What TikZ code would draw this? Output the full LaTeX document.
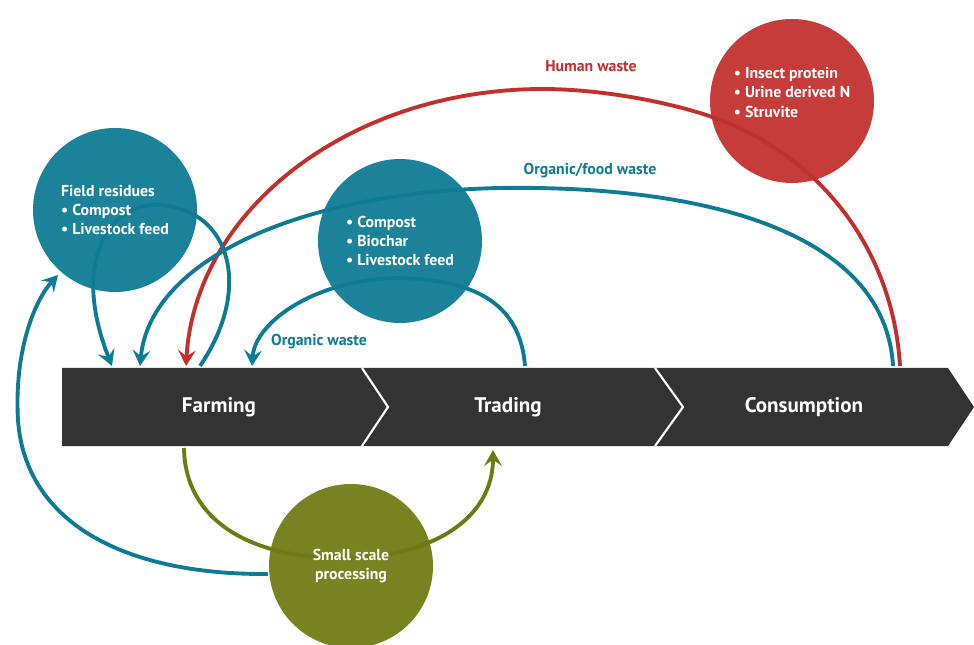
\documentclass[tikz,border=0pt]{standalone}
\usepackage{fontspec}
\setmainfont{PT Sans}
\usetikzlibrary{arrows.meta}
\definecolor{loopteal}{RGB}{14,122,148}
\definecolor{loopred}{RGB}{194,48,46}
\definecolor{loopgreen}{RGB}{110,122,18}
\definecolor{bandgrey}{RGB}{51,51,51}

\begin{document}
\begin{tikzpicture}[x=0.2mm, y=-0.2mm, font=\bfseries\fontsize{9}{11}\selectfont,
	flow/.style={line width=2.2pt},
	tip/.style={-{Stealth[length=9pt, width=10pt, inset=3.5pt]}},
	blob/.style={circle, minimum size=32.8mm, inner sep=0pt, fill opacity=0.94, text opacity=1, text=white, align=left},
	stage/.style={text=white, font=\bfseries\fontsize{12}{14}\selectfont}]
	\useasboundingbox (0,0) rectangle (974,645);
	% ports on the chain
	\coordinate (farmA) at (112,366);
	\coordinate (farmB) at (140,366);
	\coordinate (farmC) at (186,366);
	\coordinate (farmD) at (252,366);
	\coordinate (farmOut) at (200,366);
	\coordinate (farmLow) at (184,448);
	\coordinate (tradeOut) at (525,366);
	\coordinate (tradeLow) at (493,450);
	\coordinate (consA) at (893,366);
	\coordinate (consB) at (900,366);
	\coordinate (resIn) at (58,275);
	\coordinate (procOut) at (268,574);
	% loops
	\draw [flow, loopred, tip] (consB) .. controls (893,250) and (820,150) .. (700,113) .. controls (640,95) and (580,89) .. (543,89) .. controls (350,89) and (195,210) .. (farmC);
	\draw [flow, loopteal, tip] (consA) .. controls (885,230) and (700,185) .. (500,188) .. controls (300,192) and (150,260) .. (farmB);
	\draw [flow, loopteal, tip] (farmOut) .. controls (252,290) and (232,210) .. (160,205) .. controls (110,202) and (70,260) .. (farmA);
	\draw [flow, loopteal, tip] (tradeOut) .. controls (520,300) and (470,280) .. (400,278) .. controls (320,278) and (255,320) .. (farmD);
	\draw [flow, loopgreen, tip] (farmLow) .. controls (185,520) and (250,560) .. (350,558) .. controls (430,556) and (493,520) .. (tradeLow);
	\draw [flow, loopteal, tip] (procOut) .. controls (120,575) and (25,520) .. (18,420) .. controls (14,350) and (35,300) .. (resIn);
	% chain
	\fill [bandgrey] (62,368) -- (948,368) -- (974,407) -- (948,446) -- (62,446) -- cycle;
	\draw [white, line width=1.2pt] (362,368) -- (388,407) -- (362,446);
	\draw [white, line width=1.2pt] (655,368) -- (683,407) -- (655,446);
	\node [stage] (farming) at (219,407) {Farming};
	\node [stage] (trading) at (508,407) {Trading};
	\node [stage] (consumption) at (804,407) {Consumption};
	% circles
	\node [blob, fill=loopteal] (residues) at (115,210) {Field residues\\\textbullet\ Compost\\\textbullet\ Livestock feed};
	\node [blob, fill=loopteal] (biochar) at (400,241) {\textbullet\ Compost\\\textbullet\ Biochar\\\textbullet\ Livestock feed};
	\node [blob, fill=loopred] (insect) at (792,101) {};
	\node [text=white, align=left] (insectlist) at ([yshift=5pt]insect.center) {\textbullet\ Insect protein\\\textbullet\ Urine derived N\\\textbullet\ Struvite};
	\node [blob, fill=loopgreen, align=center] (processing) at (351,566) {Small scale\\processing};
	% labels
	\node [loopred] (human) at (591,66) {Human waste};
	\node [loopteal] (food) at (590,171) {Organic/food waste};
	\node [loopteal] (organic) at (319,342) {Organic waste};
\end{tikzpicture}
\end{document}
